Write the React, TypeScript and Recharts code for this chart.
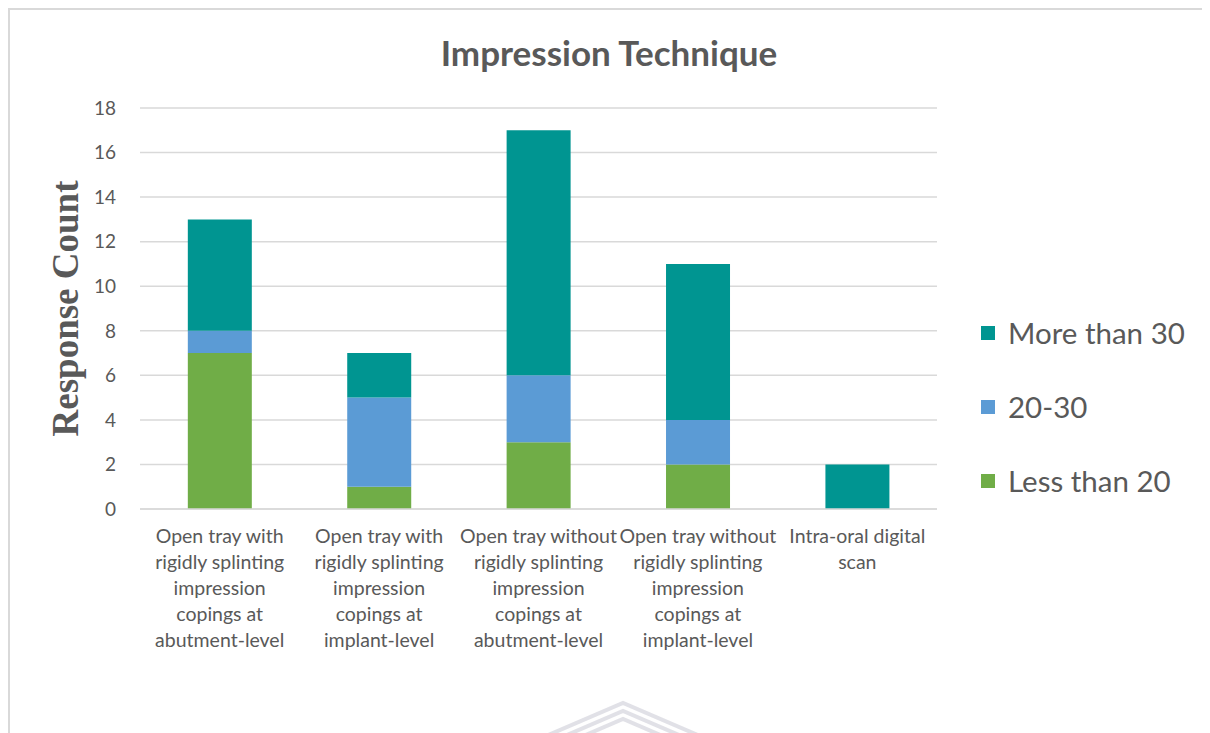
import React from 'react';
import { BarChart, Bar, XAxis, YAxis, CartesianGrid } from 'recharts';

const categories = [
  'Open tray with rigidly splinting impression copings at abutment-level',
  'Open tray with rigidly splinting impression copings at implant-level',
  'Open tray without rigidly splinting impression copings at abutment-level',
  'Open tray without rigidly splinting impression copings at implant-level',
  'Intra-oral digital scan',
];
const categoryLines = [
  ['Open tray with', 'rigidly splinting', 'impression', 'copings at', 'abutment-level'],
  ['Open tray with', 'rigidly splinting', 'impression', 'copings at', 'implant-level'],
  ['Open tray without', 'rigidly splinting', 'impression', 'copings at', 'abutment-level'],
  ['Open tray without', 'rigidly splinting', 'impression', 'copings at', 'implant-level'],
  ['Intra-oral digital', 'scan'],
];
const lessThan20 = [7, 1, 3, 2, 0];
const from20to30 = [1, 4, 3, 2, 0];
const moreThan30 = [5, 2, 11, 7, 2];
const yTicks = [0, 2, 4, 6, 8, 10, 12, 14, 16, 18];

const seriesNames = ['Less than 20', '20-30', 'More than 30'];
const seriesColors = ['#70AD47', '#5B9BD5', '#009591'];

const data = categories.map((c, i) => ({
  name: c,
  idx: i,
  a: lessThan20[i],
  b: from20to30[i],
  c: moreThan30[i],
}));

const FONT = 'Lato, "Open Sans", sans-serif';
const TEXT = '#595959';

const XTick = (props: any) => {
  const { x, y, payload } = props;
  const lines = categoryLines[payload.index] || [String(payload.value)];
  return (
    <g>
      {lines.map((l, i) => (
        <text
          key={i}
          x={x}
          y={y + 34 + i * 26}
          textAnchor="middle"
          fontFamily={FONT}
          fontSize={19.5}
          fill={TEXT}
        >
          {l}
        </text>
      ))}
    </g>
  );
};

const YLabel = (props: any) => {
  const vb = props.viewBox || { x: 0, y: 100, width: 132, height: 401 };
  const cx = 57;
  const cy = vb.y + vb.height / 2;
  return (
    <text
      x={cx}
      y={cy}
      transform={`rotate(-90 ${cx} ${cy})`}
      textAnchor="middle"
      dominantBaseline="central"
      fontFamily='"Liberation Serif", "Times New Roman", serif'
      fontWeight="bold"
      fontSize={37}
      fill={TEXT}
    >
      Response Count
    </text>
  );
};

export default function App() {
  const legendOrder = [2, 1, 0];
  return (
    <div
      style={{
        position: 'relative',
        width: 1202,
        height: 725,
        overflow: 'hidden',
        background: '#fff',
      }}
    >
      <div
        style={{
          position: 'absolute',
          left: 0,
          top: 0,
          width: 1300,
          height: 800,
          borderLeft: '2px solid #d9d9d9',
          borderTop: '2px solid #d9d9d9',
          boxSizing: 'border-box',
        }}
      />
      <div
        style={{
          position: 'absolute',
          left: 0,
          width: 1202,
          top: 24,
          textAlign: 'center',
          fontFamily: FONT,
          fontWeight: 'bold',
          fontSize: 35,
          color: TEXT,
          lineHeight: '40px',
        }}
      >
        Impression Technique
      </div>
      <svg
        width={1202}
        height={725}
        style={{ position: 'absolute', left: 0, top: 0 }}
      >
        {[0, 8, 16].map((d) => (
          <polyline
            key={d}
            points={`440,${770 + d} 615,${695 + d} 790,${770 + d}`}
            fill="none"
            stroke="#c9c9d3"
            strokeWidth={4}
            opacity={0.55}
          />
        ))}
      </svg>
      <div style={{ position: 'absolute', left: 0, top: 0 }}>
        <BarChart
          width={1202}
          height={725}
          data={data}
          margin={{ top: 100, right: 273, bottom: 0, left: 0 }}
          barCategoryGap="30%"
        >
          <CartesianGrid vertical={false} stroke="#d9d9d9" strokeWidth={1.5} />
          <XAxis
            dataKey="name"
            height={224}
            tickLine={false}
            axisLine={{ stroke: '#d9d9d9', strokeWidth: 1.5 }}
            tickSize={0}
            tickMargin={0}
            interval={0}
            tick={<XTick />}
          />
          <YAxis
            width={132}
            domain={[0, 18]}
            ticks={yTicks}
            interval={0}
            tickLine={false}
            axisLine={false}
            tickSize={0}
            tickMargin={24}
            tick={{ fontFamily: FONT, fontSize: 19, fill: TEXT }}
            label={<YLabel />}
          />
          <Bar dataKey="a" name={seriesNames[0]} stackId="s" fill={seriesColors[0]} isAnimationActive={false} />
          <Bar dataKey="b" name={seriesNames[1]} stackId="s" fill={seriesColors[1]} isAnimationActive={false} />
          <Bar dataKey="c" name={seriesNames[2]} stackId="s" fill={seriesColors[2]} isAnimationActive={false} />
        </BarChart>
      </div>
      <div style={{ position: 'absolute', left: 973, top: 307 }}>
        {legendOrder.map((k, i) => (
          <div
            key={k}
            style={{
              position: 'absolute',
              left: 0,
              top: i * 74,
              display: 'flex',
              alignItems: 'center',
              whiteSpace: 'nowrap',
            }}
          >
            <div style={{ width: 14, height: 14, background: seriesColors[k], marginRight: 13 }} />
            <span style={{ fontFamily: FONT, fontSize: 29.5, color: TEXT, lineHeight: '36px' }}>
              {seriesNames[k]}
            </span>
          </div>
        ))}
      </div>
    </div>
  );
}
